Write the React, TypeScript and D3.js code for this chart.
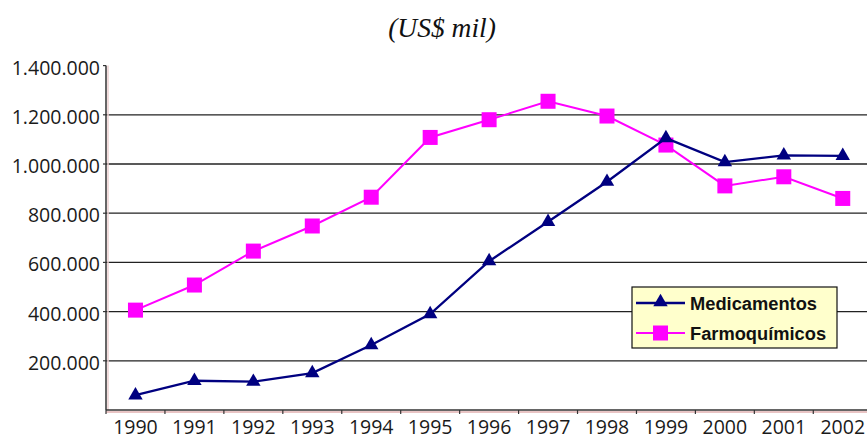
import React from "react";
import * as d3 from "d3";

const years = ["1990","1991","1992","1993","1994","1995","1996","1997","1998","1999","2000","2001","2002"];
const medicamentos = [60000, 119000, 115000, 150000, 264000, 390000, 605000, 765000, 928000, 1105000, 1008000, 1035000, 1033000];
const farmoquimicos = [406000, 508000, 646000, 748000, 865000, 1108000, 1180000, 1255000, 1195000, 1077000, 911000, 948000, 860000];
const yTicks = [200000, 400000, 600000, 800000, 1000000, 1200000, 1400000];

const W = 867, H = 436;
const left = 106, bottom = 410, top = 65.6;
const band = 58.94;

export default function App() {
  const x = d3.scaleBand<string>().domain(years).range([left, left + band * years.length]).padding(0);
  const y = d3.scaleLinear().domain([0, 1400000]).range([bottom, top]);
  const fmt = (v: number) => d3.format(",")(v).replace(/,/g, ".");
  const cx = (yr: string) => (x(yr) as number) + x.bandwidth() / 2;
  const line = d3.line<number>().x((_, i) => cx(years[i])).y(d => y(d));
  const tri = d3.symbol().type(d3.symbolTriangle).size(90);
  const font = "'Open Sans', 'DejaVu Sans', sans-serif";
  const lfont = "'Liberation Sans', Arial, sans-serif";

  return (
    <svg width={W} height={H} style={{ position: "absolute", left: 0, top: 0, background: "#fff" }}>
      <text x={442} y={37} textAnchor="middle" fontFamily="'Liberation Serif', 'Times New Roman', serif" fontStyle="italic" fontSize={27.5} fill="#111">(US$ mil)</text>
      {/* gridlines */}
      {yTicks.filter(t => t < 1400000).map(t => (
        <line key={t} x1={left} x2={W} y1={y(t)} y2={y(t)} stroke="#222" strokeWidth={1.3} />
      ))}
      {/* y axis */}
      <line x1={left + 2} x2={left + 2} y1={y(1400000)} y2={bottom} stroke="#ecd0d0" strokeWidth={1.5} />
      <line x1={left} x2={left} y1={y(1400000)} y2={bottom} stroke="#333" strokeWidth={1.5} />
      {yTicks.map(t => (
        <g key={t}>
          <line x1={left - 3} x2={left} y1={y(t)} y2={y(t)} stroke="#333" strokeWidth={1.2} />
          <text x={left - 6} y={y(t) + 2} dy="0.36em" textAnchor="end" fontFamily={font} fontSize={19.5} fill="#1a1a1a">{fmt(t)}</text>
        </g>
      ))}
      {/* x axis */}
      <line x1={left} x2={W} y1={bottom + 2} y2={bottom + 2} stroke="#e8c4c4" strokeWidth={2} />
      <line x1={left} x2={W} y1={bottom} y2={bottom} stroke="#333" strokeWidth={1.5} />
      {years.map((yr) => (
        <g key={yr}>
          <line x1={x(yr) as number} x2={x(yr) as number} y1={bottom} y2={bottom + 4} stroke="#333" strokeWidth={1.2} />
          <text x={cx(yr)} y={434} textAnchor="middle" fontFamily={font} fontSize={19.5} fill="#1a1a1a">{yr}</text>
        </g>
      ))}
      {/* Farmoquimicos */}
      <path d={line(farmoquimicos) || ""} fill="none" stroke="#ff00ff" strokeWidth={2} />
      {farmoquimicos.map((v, i) => (
        <rect key={i} x={cx(years[i]) - 7.5} y={y(v) - 7.5} width={15} height={15} fill="#ff00ff" />
      ))}
      {/* Medicamentos */}
      <path d={line(medicamentos) || ""} fill="none" stroke="#000080" strokeWidth={2.3} />
      {medicamentos.map((v, i) => (
        <path key={i} d={tri() || ""} transform={`translate(${cx(years[i])},${y(v)})`} fill="#000080" />
      ))}
      {/* legend */}
      <g>
        <rect x={632} y={287} width={205} height={61} fill="#ffffcc" stroke="#111" strokeWidth={1.2} />
        <line x1={636} x2={685} y1={303} y2={303} stroke="#000080" strokeWidth={2.3} />
        <path d={tri() || ""} transform={`translate(660.5,302)`} fill="#000080" />
        <text x={690} y={303} dy="0.36em" fontFamily={lfont} fontWeight="bold" fontSize={18.3} fill="#111">Medicamentos</text>
        <line x1={636} x2={685} y1={333} y2={333} stroke="#ff00ff" strokeWidth={2} />
        <rect x={653} y={325.5} width={15} height={15} fill="#ff00ff" />
        <text x={690} y={333} dy="0.36em" fontFamily={lfont} fontWeight="bold" fontSize={18.3} fill="#111">Farmoquímicos</text>
      </g>
    </svg>
  );
}
